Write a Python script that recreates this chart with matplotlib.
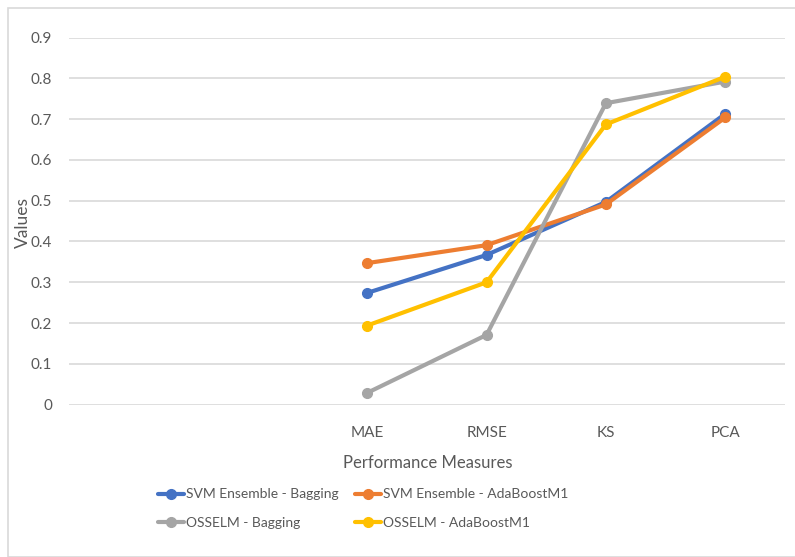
import matplotlib.pyplot as plt
from matplotlib.patches import Rectangle

# x axis has two empty slots before the measures
categories = ['', '', 'MAE', 'RMSE', 'KS', 'PCA']
measures = ['MAE', 'RMSE', 'KS', 'PCA']

svm_bagging = [0.274, 0.367, 0.497, 0.713]
svm_adaboost = [0.347, 0.391, 0.491, 0.704]
osselm_bagging = [0.029, 0.171, 0.739, 0.792]
osselm_adaboost = [0.194, 0.300, 0.687, 0.804]

series = [
    ('SVM Ensemble - Bagging', svm_bagging, '#4472C4'),
    ('SVM Ensemble - AdaBoostM1', svm_adaboost, '#ED7D31'),
    ('OSSELM - Bagging', osselm_bagging, '#A5A5A5'),
    ('OSSELM - AdaBoostM1', osselm_adaboost, '#FFC000'),
]

plt.rcParams['font.family'] = ['Lato', 'DejaVu Sans']
txt = '#595959'

fig = plt.figure(figsize=(7.95, 5.57), dpi=100)
fig.patches.append(Rectangle((8 / 795, 0.0), 1.0, 1 - 8 / 557, transform=fig.transFigure,
                             fill=False, edgecolor='#D9D9D9', linewidth=1.2))

ax = fig.add_axes([68.7 / 795, 1 - 404.7 / 557, (785 - 68.7) / 795, (404.7 - 37.5) / 557])

xpos = [categories.index(m) for m in measures]
lines = []
for name, vals, col in series:
    ln, = ax.plot(xpos, vals, color=col, linewidth=3, marker='o', markersize=7,
                  solid_capstyle='round', label=name, clip_on=False)
    lines.append(ln)

ax.set_xlim(-0.5, len(categories) - 0.5)
ax.set_ylim(0, 0.9)
ax.set_xticks(range(len(categories)))
ax.set_xticklabels(categories)
ax.set_yticks([i / 10 for i in range(10)])
ax.set_yticklabels(['0'] + ['%.1f' % (i / 10) for i in range(1, 10)])
ax.tick_params(length=0, labelsize=11, labelcolor=txt)
ax.tick_params(axis='x', pad=15)
ax.tick_params(axis='y', pad=12)
ax.grid(axis='y', color='#D9D9D9', linewidth=1.2)
ax.set_axisbelow(True)
for s in ax.spines.values():
    s.set_visible(False)

ax.set_xlabel('Performance Measures', fontsize=12, color=txt)
ax.xaxis.set_label_coords((428 - 68.7) / (785 - 68.7), -(455 - 404.7) / (404.7 - 37.5))
ax.set_ylabel('Values', fontsize=12.5, color=txt)
ax.yaxis.set_label_coords(-(68.7 - 31) / (785 - 68.7), (404.7 - 222) / (404.7 - 37.5))

# two legend columns, filled row by row
for k, x0 in enumerate([145, 342]):
    leg = fig.legend(handles=lines[k::2], loc='upper left',
                     bbox_to_anchor=(x0 / 795, 1 - 476 / 557), frameon=False,
                     fontsize=10, labelcolor=txt, handlelength=1.9,
                     handletextpad=0.15, labelspacing=1.2)

fig.savefig('out.png', dpi=100)
